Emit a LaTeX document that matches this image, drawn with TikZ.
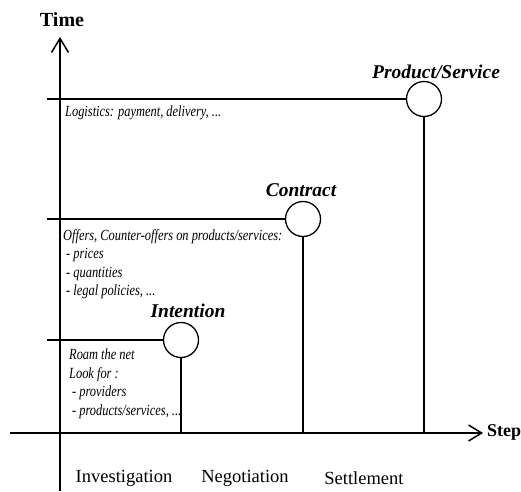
\documentclass[tikz,border=0pt]{standalone}
\usepackage{fontspec}
\setmainfont{Liberation Serif}
\newfontfamily\condit[FakeStretch=0.8]{Liberation Serif}
\usetikzlibrary{arrows.meta}
\tikzset{
  axis/.style={line width=1.5pt},
  guide/.style={line width=1.3pt},
  stage/.style={circle, draw, line width=1.3pt, minimum size=35pt, inner sep=0pt, fill=white},
  stagelabel/.style={font=\fontsize{19.5}{22}\selectfont\bfseries\itshape, inner sep=0pt},
  notes/.style={font=\fontsize{15.5}{18.5}\selectfont\condit\itshape, align=left, anchor=north west, inner sep=0pt},
  steplabel/.style={font=\fontsize{18.5}{21}\selectfont, inner sep=0pt},
  axislabel/.style={font=\fontsize{18}{20}\selectfont\bfseries, inner sep=0pt}
}
\begin{document}
\begin{tikzpicture}[x=1pt,y=-1pt]
\useasboundingbox (0,0) rectangle (521,491);
% axes
\coordinate (ybot) at (60,491);
\coordinate (ytop) at (60,37);
\coordinate (xleft) at (10,433);
\coordinate (xright) at (483,433);
\draw[axis, -{Straight Barb[length=14pt,width=17pt,line width=1.5pt]}] (ybot) -- (ytop);
\draw[axis, -{Straight Barb[length=13pt,width=16pt,line width=1.5pt]}] (xleft) -- (xright);
\node[axislabel, font=\fontsize{20}{22}\selectfont\bfseries] (time) at (62,20) {Time};
\node[axislabel, anchor=west] (step) at (487,432) {Step};
% stages
\node[stage] (ps) at (424,99) {};
\node[stage] (ct) at (303,219) {};
\node[stage] (in) at (181,340) {};
\coordinate (psl) at (47,99);
\coordinate (ctl) at (47,219);
\coordinate (inl) at (47,340);
\draw[guide] (psl) -- (ps.west);
\draw[guide] (ctl) -- (ct.west);
\draw[guide] (inl) -- (in.west);
\draw[guide] (ps.south) -- (ps.south |- xleft);
\draw[guide] (ct.south) -- (ct.south |- xleft);
\draw[guide] (in.south) -- (in.south |- xleft);
\node[stagelabel] (psname) at (436,72) {Product/Service};
\node[stagelabel] (ctname) at (301,190) {Contract};
\node[stagelabel] (inname) at (188,311) {Intention};
% notes
\node[notes] (psnote) at (65,106) {Logistics: payment, delivery, ...};
\node[notes] (ctnote) at (63,229) {Offers, Counter-offers on products/services:\\
\hspace{3pt}- prices\\
\hspace{3pt}- quantities\\
\hspace{3pt}- legal policies, ...};
\node[notes] (innote) at (69,349) {Roam the net\\
Look for :\\
\hspace{3pt}- providers\\
\hspace{3pt}- products/services, ...};
% step labels
\node[steplabel] (inv) at (124,478) {Investigation};
\node[steplabel] (neg) at (245,478) {Negotiation};
\node[steplabel] (set) at (364,478) {Settlement};
\end{tikzpicture}
\end{document}
